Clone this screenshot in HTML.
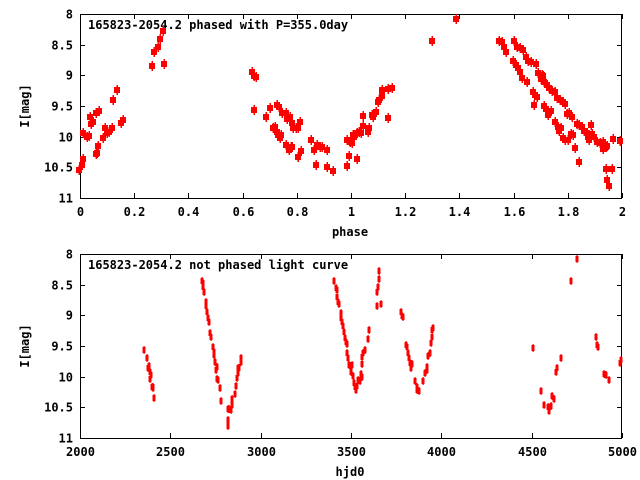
<!DOCTYPE html>
<html><head><meta charset="utf-8"><style>
html,body{margin:0;padding:0;background:#fff;}
svg{display:block;}
text{font-family:"DejaVu Sans Mono","Liberation Mono",monospace;font-size:12px;font-weight:bold;fill:#000;}
</style></head><body>
<svg id="s" width="640" height="480" xmlns="http://www.w3.org/2000/svg">
<rect width="640" height="480" fill="#fff"/>
<g id="g"></g>
</svg>
<script>
var ns="http://www.w3.org/2000/svg",g=document.getElementById('g');
function el(t,a,txt){var e=document.createElementNS(ns,t);for(var k in a)e.setAttribute(k,a[k]);if(txt!==undefined)e.textContent=txt;g.appendChild(e);return e;}
function frame(tp,bt,xlabels,ylabels,title,xname){
 var L=80,R=622;
 el('rect',{x:L+0.5,y:tp+0.5,width:R-L-1,height:bt-tp,fill:'none',stroke:'#000','stroke-width':1});
 for(var i=0;i<xlabels.length;i++){var x=Math.round(L+(R-L)*i/(xlabels.length-1))+0.5;
  el('line',{x1:x,y1:tp,x2:x,y2:tp+5,stroke:'#000'});el('line',{x1:x,y1:bt,x2:x,y2:bt-5,stroke:'#000'});
  el('text',{x:x,y:bt+18,'text-anchor':'middle'},xlabels[i]);}
 for(var j=0;j<ylabels.length;j++){var y=Math.round(tp+(bt-tp)*j/(ylabels.length-1))+0.5;
  el('line',{x1:L,y1:y,x2:L+5,y2:y,stroke:'#000'});el('line',{x1:R,y1:y,x2:R-5,y2:y,stroke:'#000'});
  el('text',{x:73,y:y+4,'text-anchor':'end'},ylabels[j]);}
 el('text',{x:88,y:tp+15},title);
 el('text',{x:350,y:bt+38,'text-anchor':'middle'},xname);
 el('text',{x:0,y:0,'text-anchor':'middle',transform:'translate(29,'+((tp+bt)/2)+') rotate(-90)'},'I[mag]');
}
var yl=['8','8.5','9','9.5','10','10.5','11'];
frame(14,198,['0','0.2','0.4','0.6','0.8','1','1.2','1.4','1.6','1.8','2'],yl,'165823-2054.2 phased with P=355.0day','phase');
frame(254,438,['2000','2500','3000','3500','4000','4500','5000'],yl,'165823-2054.2 not phased light curve','hjd0');
var ptsA=[79,170,82,165,83,159,83,133,87,137,89,136,90,117,91,124,93,122,96,113,99,111,96,154,97,153,98,146,103,138,105,128,107,133,109,132,112,128,113,100,117,90,121,123,123,120,152,66,154,52,158,47,160,39,163,31,164,64,
252,72,254,76,256,77,254,110,266,117,270,108,277,105,279,107,282,113,286,113,273,128,275,127,277,132,278,135,280,138,281,135,287,119,290,117,292,123,293,128,296,128,298,128,300,122,286,145,289,150,291,147,292,147,301,151,298,157,311,140,314,150,316,165,317,145,320,147,
322,147,327,150,327,167,333,171,347,166,347,140,350,142,352,143,349,156,353,135,354,137,357,133,359,132,361,133,363,126,363,116,357,159,368,132,369,128,372,115,373,117,376,112,378,102,379,100,382,96,382,90,388,89,392,88,388,118,432,41,456,19,
499,41,502,42,504,47,506,52,514,41,517,47,520,48,523,50,526,57,528,61,531,62,536,64,513,61,516,65,518,68,520,72,522,78,527,82,538,73,542,75,543,76,541,79,544,82,547,85,549,88,552,91,555,92,533,92,535,95,537,97,534,105,544,106,546,109,548,115,551,111,557,98,560,100,563,102,565,104,567,114,569,113,572,117,555,122,558,127,561,128,559,131,563,138,565,140,568,140,571,134,573,135,575,148,577,124,579,125,582,127,584,131,587,133,588,137,591,125,589,140,592,134,594,137,579,162,597,142,600,143,603,149,603,142,606,147,607,146,606,169,607,180,609,186,612,169,613,139,620,141];
for(var i=0;i<ptsA.length;i+=2){var x=ptsA[i],y=ptsA[i+1];
 el('rect',{x:x-3,y:y-3,width:6,height:6,fill:'#f00'});
 el('rect',{x:x-0.5,y:y-5,width:1.5,height:10,fill:'#f00'});}
var ptsB=[144,350,147,358,148,368,149,366,150,372,151,375,152,387,153,388,153,387,154,398,150,379,
202,281,203,283,203,287,204,292,206,302,206,306,207,312,208,318,209,322,210,333,211,337,213,347,214,352,214,355,215,362,217,367,216,370,217,379,218,380,220,388,221,401,228,409,229,409,231,410,228,420,228,426,232,405,232,399,235,394,236,386,237,378,238,368,238,373,239,368,241,362,241,358,
334,281,336,288,337,290,337,297,338,302,339,304,341,313,341,318,342,322,343,326,344,332,345,338,346,342,347,344,347,353,348,358,349,365,351,368,352,365,351,372,353,376,354,383,355,387,356,390,357,386,358,380,360,381,361,374,362,377,362,364,362,357,363,353,365,350,368,339,369,330,377,292,378,287,377,306,379,279,379,271,381,304,
401,312,402,316,403,317,406,345,407,347,408,353,409,358,410,363,411,368,412,364,415,381,417,387,417,390,419,391,423,381,425,373,427,370,427,367,428,356,430,353,431,343,432,337,432,330,433,328,
533,348,541,391,544,405,548,407,549,411,551,406,552,396,554,399,556,372,557,368,561,358,571,281,577,259,596,337,597,345,598,347,604,374,606,375,609,380,620,363,621,360];
for(var i=0;i<ptsB.length;i+=2){var x=ptsB[i],y=ptsB[i+1];
 el('rect',{x:x-1.5,y:y-3,width:3,height:6,fill:'#f00'});
 el('rect',{x:x-0.5,y:y-4,width:1.2,height:8,fill:'#f00'});}
</script>
</body></html>
